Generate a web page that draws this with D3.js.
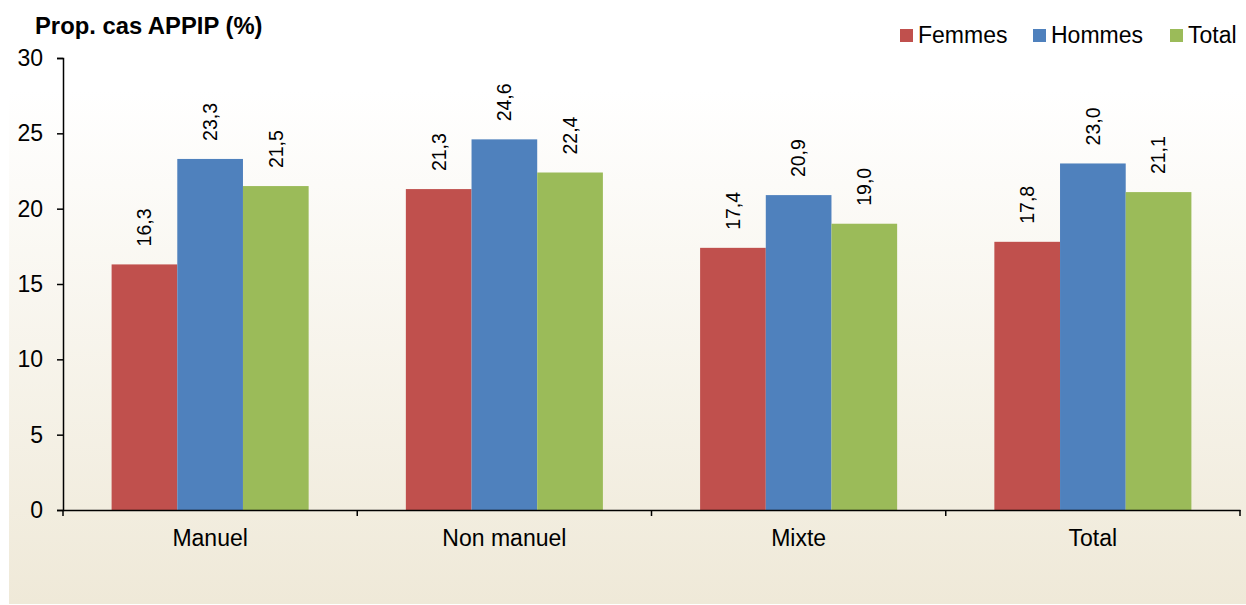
<!DOCTYPE html>
<html>
<head>
<meta charset="utf-8">
<script src="https://cdn.jsdelivr.net/npm/d3@7"></script>
<style>
  body { margin: 0; background: #fff; }
  text { font-family: "Liberation Sans", Arial, sans-serif; }
</style>
</head>
<body>
<div id="viz-container"></div>
<script>
// data
let categories = ["Manuel", "Non manuel", "Mixte", "Total"];
let seriesNames = ["Femmes", "Hommes", "Total"];
let femmes = [16.3, 21.3, 17.4, 17.8];
let hommes = [23.3, 24.6, 20.9, 23.0];
let total = [21.5, 22.4, 19.0, 21.1];
let yTicks = [0, 5, 10, 15, 20, 25, 30];
let colors = ["#C0504D", "#4F81BD", "#9BBB59"];

let W = 1246, H = 605;
let viz = d3.select("#viz-container")
    .append("svg")
    .attr("width", W)
    .attr("height", H)
;

// background gradient
let defs = viz.append("defs");
let grad = defs.append("linearGradient")
    .attr("id", "bg")
    .attr("x1", 0).attr("y1", 0).attr("x2", 0).attr("y2", 1);
grad.append("stop").attr("offset", "0%").attr("stop-color", "#ffffff");
grad.append("stop").attr("offset", "15%").attr("stop-color", "#ffffff");
grad.append("stop").attr("offset", "100%").attr("stop-color", "#EFE9D8");

viz.append("rect")
  .attr("x", 9).attr("y", 0)
  .attr("width", W - 9).attr("height", 604)
  .attr("fill", "url(#bg)");

let mLeft = 63, mRight = 1240, mTop = 58, mBottom = 510;

let x = d3.scaleBand().domain(categories).range([mLeft, mRight]).padding(0);
let y = d3.scaleLinear().domain([0, 30]).range([mBottom, mTop]);
let inner = d3.scaleBand().domain(seriesNames)
    .range([0, x.bandwidth()]).paddingOuter(0.74).paddingInner(0);

let rows = categories.map((c, i) => ({cat: c, vals: [femmes[i], hommes[i], total[i]]}));

// bars
let groups = viz.selectAll(".datagroup").data(rows).enter()
  .append("g")
    .attr("class", "datagroup")
    .attr("transform", d => "translate(" + x(d.cat) + ",0)");

groups.selectAll("rect").data(d => d.vals.map((v, k) => ({v: v, s: seriesNames[k], k: k})))
  .enter().append("rect")
    .attr("x", d => inner(d.s))
    .attr("y", d => y(d.v))
    .attr("width", inner.bandwidth())
    .attr("height", d => mBottom - y(d.v))
    .attr("fill", d => colors[d.k]);

// value labels
groups.selectAll(".lbl").data(d => d.vals.map((v, k) => ({v: v, s: seriesNames[k], k: k})))
  .enter().append("text")
    .attr("class", "lbl")
    .attr("transform", d => "translate(" + (inner(d.s) + inner.bandwidth() / 2) + "," + (y(d.v) - 18) + ") rotate(-90)")
    .attr("dy", "0.35em")
    .attr("font-size", 19.5)
    .attr("fill", "#000")
    .text(d => d3.format(".1f")(d.v).replace(".", ","));

// y axis
let yAxis = d3.axisLeft(y).tickValues(yTicks).tickSize(6).tickPadding(14).tickFormat(d3.format("d"));
let gy = viz.append("g").attr("transform", "translate(" + mLeft + ",0)").call(yAxis);
gy.select(".domain").attr("stroke", "#000").attr("stroke-width", 1.5);
gy.selectAll(".tick line").attr("stroke", "#000").attr("stroke-width", 1.5);
gy.selectAll(".tick text").attr("font-size", 23).attr("fill", "#000")
  .attr("font-family", "Liberation Sans, Arial, sans-serif");

// x axis
let gx = viz.append("g").attr("transform", "translate(0," + mBottom + ")")
  .call(d3.axisBottom(x).tickSize(0).tickPadding(20));
gx.select(".domain").attr("stroke", "#000").attr("stroke-width", 1.5);
gx.selectAll(".tick text").attr("font-size", 23).attr("fill", "#000")
  .attr("font-family", "Liberation Sans, Arial, sans-serif");
// boundary tick marks
let bounds = categories.map(c => x(c)).concat([mRight]);
viz.append("g").selectAll("line").data(bounds).enter()
  .append("line")
    .attr("x1", d => d).attr("x2", d => d)
    .attr("y1", mBottom).attr("y2", mBottom + 6)
    .attr("stroke", "#000").attr("stroke-width", 1.5);

// title
viz.append("text")
  .attr("x", 35).attr("y", 34)
  .attr("font-size", 23.8).attr("font-weight", "bold")
  .text("Prop. cas APPIP (%)");

// legend
let legendX = [900, 1033, 1170];
let legend = viz.append("g").selectAll("g").data(seriesNames).enter()
  .append("g")
    .attr("transform", (d, i) => "translate(" + legendX[i] + ",29)");
legend.append("rect")
  .attr("width", 13).attr("height", 13)
  .attr("fill", (d, i) => colors[i]);
legend.append("text")
  .attr("x", 18).attr("y", 14)
  .attr("font-size", 23)
  .text(d => d);
</script>
</body>
</html>
